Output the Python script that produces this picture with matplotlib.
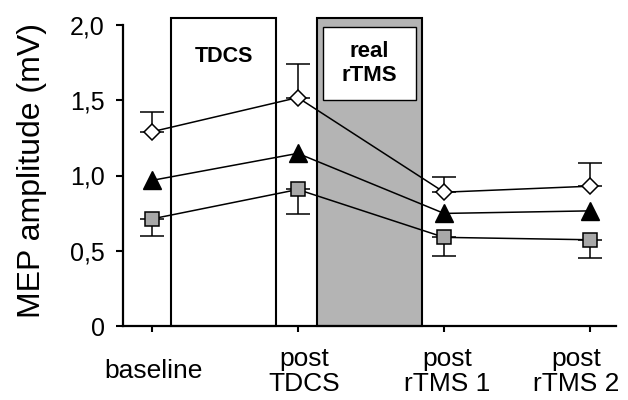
import matplotlib
matplotlib.use("Agg")
import matplotlib.pyplot as plt
from matplotlib.patches import Rectangle
from matplotlib.transforms import ScaledTranslation

plt.rcParams['font.family'] = ['Liberation Sans', 'DejaVu Sans']

# ---- data ----
conditions = ["baseline", "post\nTDCS", "post\nrTMS 1", "post\nrTMS 2"]
x_pos = [0, 1, 2, 3]
diamond_mean = [1.29, 1.518, 0.889, 0.929]
diamond_err_up = [0.133, 0.222, 0.102, 0.156]
triangle_mean = [0.967, 1.147, 0.748, 0.765]
square_mean = [0.711, 0.907, 0.589, 0.573]
square_err_down = [0.111, 0.160, 0.127, 0.122]
yticks = [0, 0.5, 1.0, 1.5, 2.0]
yticklabels = ["0", "0,5", "1,0", "1,5", "2,0"]

fig = plt.figure(figsize=(6.28, 4.0), dpi=100)
ax = fig.add_axes([123/628, 74/400, 493/628, 301/400])
ax.set_xlim(-0.195, 3.175)
ax.set_ylim(0, 2.0)

# intervention boxes
ax.add_patch(Rectangle((0.133, 0), 0.718, 2.047, facecolor='white',
                       edgecolor='black', lw=1.5, clip_on=False, zorder=1))
ax.add_patch(Rectangle((1.131, 0), 0.718, 2.047, facecolor='#b4b4b4',
                       edgecolor='black', lw=1.5, clip_on=False, zorder=1))
ax.add_patch(Rectangle((1.172, 1.5), 0.636, 0.487, facecolor='white',
                       edgecolor='black', lw=1.0, clip_on=False, zorder=2))
ax.text(0.496, 1.79, "TDCS", ha='center', va='center', fontsize=15.5,
        fontweight='bold', zorder=3)
ax.text(1.49, 1.745, "real\nrTMS", ha='center', va='center', fontsize=16,
        fontweight='bold', linespacing=1.15, zorder=3)

lk = dict(color='black', lw=1.1, zorder=4)
ax.plot(x_pos, diamond_mean, **lk)
ax.plot(x_pos, triangle_mean, **lk)
ax.plot(x_pos, square_mean, **lk)

ax.errorbar(x_pos, diamond_mean, yerr=[[0]*4, diamond_err_up], fmt='none',
            ecolor='black', elinewidth=1.1, capsize=8.5, capthick=1.1, zorder=3)
ax.errorbar(x_pos, square_mean, yerr=[square_err_down, [0]*4], fmt='none',
            ecolor='black', elinewidth=1.1, capsize=8.5, capthick=1.1, zorder=3)

ax.plot(x_pos, diamond_mean, 'D', ms=8.5, mfc='white', mec='black', mew=1.1,
        zorder=5, clip_on=False)
ax.plot(x_pos, triangle_mean, '^', ms=13.5, mfc='black', mec='black', mew=1.0,
        zorder=5, clip_on=False)
ax.plot(x_pos, square_mean, 's', ms=10.5, mfc='#a8a8a8', mec='black', mew=1.1,
        zorder=5, clip_on=False)

for s in ['top', 'right']:
    ax.spines[s].set_visible(False)
for s in ['left', 'bottom']:
    ax.spines[s].set_linewidth(1.6)
    ax.spines[s].set_zorder(6)

ax.set_yticks(yticks)
ax.set_yticklabels(yticklabels, fontsize=18)
ax.tick_params(axis='y', direction='out', length=5, width=1.5, pad=8)

ax.set_xticks(x_pos)
ax.set_xticklabels(conditions, fontsize=19, linespacing=1.05)
ax.tick_params(axis='x', direction='out', length=4.5, width=1.5, pad=28)
labs = ax.get_xticklabels()
for lab in labs:
    lab.set_verticalalignment('center')
    lab.set_multialignment('center')
shifts_px = [2, 6, 3, -14]
for lab, dx in zip(labs, shifts_px):
    lab.set_transform(lab.get_transform() +
                      ScaledTranslation(dx / 100, 0, fig.dpi_scale_trans))

fig.text(32/628, 1 - 171/400, "MEP amplitude (mV)", rotation=90,
         ha='center', va='center', fontsize=23)

fig.savefig("out.png", dpi=100)
